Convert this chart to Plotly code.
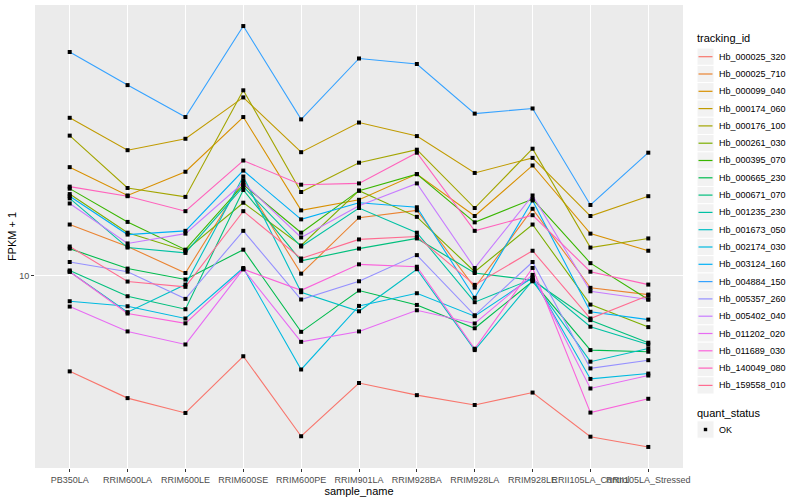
import plotly.graph_objects as go
import math

samples = ["PB350LA", "RRIM600LA", "RRIM600LE", "RRIM600SE", "RRIM600PE", "RRIM901LA",
           "RRIM928BA", "RRIM928LA", "RRIM928LE", "RRII105LA_Control", "RRII105LA_Stressed"]

tracking_ids = ["Hb_000025_320", "Hb_000025_710", "Hb_000099_040", "Hb_000174_060", "Hb_000176_100",
                "Hb_000261_030", "Hb_000395_070", "Hb_000665_230", "Hb_000671_070", "Hb_001235_230",
                "Hb_001673_050", "Hb_002174_030", "Hb_003124_160", "Hb_004884_150", "Hb_005357_260",
                "Hb_005402_040", "Hb_011202_020", "Hb_011689_030", "Hb_140049_080", "Hb_159558_010"]

colors = ["#F8766D", "#EA8331", "#D89000", "#C09B00", "#A3A500", "#7CAE00", "#39B600", "#00BB4E",
          "#00BF7D", "#00C1A3", "#00BFC4", "#00BAE0", "#00B0F6", "#35A2FF", "#9590FF", "#C77CFF",
          "#E76BF3", "#FA62DB", "#FF62BC", "#FF6C91"]

# FPKM + 1 values per gene, in sample order
Hb_000025_320 = [4.79, 3.90, 3.48, 5.38, 2.91, 4.38, 3.99, 3.70, 4.07, 2.90, 2.68]
Hb_000025_710 = [14.8, 12.5, 10.2, 20.8, 10.15, 15.6, 16.5, 9.12, 16.7, 9.10, 8.64]
Hb_000099_040 = [23.0, 18.5, 22.2, 33.8, 16.5, 17.9, 21.8, 15.8, 23.3, 13.8, 12.1]
Hb_000174_060 = [33.6, 26.2, 28.6, 39.3, 25.8, 32.4, 29.2, 22.0, 24.7, 15.8, 18.4]
Hb_000176_100 = [29.3, 19.6, 18.3, 41.5, 19.0, 23.8, 26.3, 16.8, 26.5, 12.4, 13.3]
Hb_000261_030 = [18.7, 13.9, 12.1, 17.5, 12.6, 19.2, 15.7, 10.3, 14.8, 8.00, 6.73]
Hb_000395_070 = [19.5, 15.1, 12.2, 20.1, 13.9, 19.2, 21.8, 15.05, 18.0, 11.0, 8.32]
Hb_000665_230 = [12.3, 10.55, 9.70, 12.2, 6.49, 8.91, 7.98, 6.67, 9.57, 5.64, 5.57]
Hb_000671_070 = [10.4, 8.53, 7.72, 19.3, 11.2, 12.3, 13.3, 10.2, 9.65, 7.10, 5.97]
Hb_001235_230 = [18.1, 12.4, 11.9, 19.8, 12.5, 16.8, 13.9, 8.15, 9.75, 6.75, 5.89]
Hb_001673_050 = [10.3, 7.55, 9.33, 21.4, 8.80, 7.60, 10.5, 5.64, 9.62, 5.16, 5.71]
Hb_002174_030 = [8.21, 7.90, 7.19, 10.6, 4.86, 7.92, 8.73, 7.32, 9.85, 4.52, 4.71]
Hb_003124_160 = [18.4, 13.7, 14.1, 22.4, 15.4, 17.5, 16.9, 8.43, 17.8, 7.57, 7.13]
Hb_004884_150 = [55.7, 43.2, 33.8, 68.0, 33.2, 53.0, 50.8, 34.7, 36.1, 17.2, 25.7]
Hb_005357_260 = [11.1, 10.3, 8.36, 14.1, 8.32, 9.57, 11.7, 7.37, 11.1, 4.90, 5.22]
Hb_005402_040 = [17.4, 12.8, 13.8, 20.4, 13.4, 17.1, 20.3, 10.6, 18.5, 8.86, 8.32]
Hb_011202_020 = [7.88, 6.51, 5.89, 10.5, 6.01, 6.51, 7.66, 6.92, 10.05, 4.20, 4.64]
Hb_011689_030 = [10.3, 7.47, 6.93, 10.5, 8.93, 10.9, 10.7, 5.70, 10.6, 3.49, 3.88]
Hb_140049_080 = [19.8, 18.4, 16.4, 24.2, 20.1, 20.3, 25.7, 14.1, 15.9, 10.3, 9.33]
Hb_159558_010 = [12.5, 9.55, 9.17, 16.4, 11.4, 13.2, 13.5, 9.31, 12.1, 7.19, 8.58]

series = [Hb_000025_320, Hb_000025_710, Hb_000099_040, Hb_000174_060, Hb_000176_100,
          Hb_000261_030, Hb_000395_070, Hb_000665_230, Hb_000671_070, Hb_001235_230,
          Hb_001673_050, Hb_002174_030, Hb_003124_160, Hb_004884_150, Hb_005357_260,
          Hb_005402_040, Hb_011202_020, Hb_011689_030, Hb_140049_080, Hb_159558_010]

quant_status = ["OK"]
y_ticks = [10]

FONT = "Liberation Sans, Arial, Helvetica, sans-serif"
W, H = 800, 500
ML, MR, MT, MB = 35, 117, 5, 32
PW, PH = W - ML - MR, H - MT - MB


def px(x):  # pixel -> paper x
    return (x - ML) / PW


def py(y):  # pixel -> paper y
    return 1 - (y - MT) / PH


fig = go.Figure()
for name, vals, col in zip(tracking_ids, series, colors):
    fig.add_trace(go.Scatter(x=samples, y=vals, mode="lines", name=name,
                             line=dict(color=col, width=1.1), showlegend=False))

all_x = [s for vals in series for s in samples]
all_y = [v for vals in series for v in vals]
fig.add_trace(go.Scatter(x=all_x, y=all_y, mode="markers", name=quant_status[0], showlegend=False,
                         marker=dict(symbol="square", size=4, color="black")))

lo = math.log10(min(all_y))
hi = math.log10(max(all_y))
pad = 0.05 * (hi - lo)

# ---- manual ggplot-style legends ----
shapes = []
annotations = []
annotations.append(dict(text="tracking_id", x=px(695), y=py(38), xref="paper", yref="paper",
                        xanchor="left", yanchor="middle", showarrow=False,
                        font=dict(family=FONT, size=11, color="black")))
step = 17.3
y0 = 56.7
for i, (name, col) in enumerate(zip(tracking_ids, colors)):
    cy = y0 + i * step
    shapes.append(dict(type="rect", xref="paper", yref="paper",
                       x0=px(697), x1=px(714), y0=py(cy - step / 2), y1=py(cy + step / 2),
                       fillcolor="#F2F2F2", line=dict(color="white", width=1), layer="above"))
    shapes.append(dict(type="line", xref="paper", yref="paper",
                       x0=px(698.5), x1=px(712.5), y0=py(cy), y1=py(cy),
                       line=dict(color=col, width=1.2), layer="above"))
    annotations.append(dict(text=name, x=px(716.5), y=py(cy), xref="paper", yref="paper",
                            xanchor="left", yanchor="middle", showarrow=False,
                            font=dict(family=FONT, size=9, color="black")))

annotations.append(dict(text="quant_status", x=px(695), y=py(412.5), xref="paper", yref="paper",
                        xanchor="left", yanchor="middle", showarrow=False,
                        font=dict(family=FONT, size=11, color="black")))
ok_y = 429.5
shapes.append(dict(type="rect", xref="paper", yref="paper",
                   x0=px(697), x1=px(714), y0=py(ok_y - step / 2), y1=py(ok_y + step / 2),
                   fillcolor="#F2F2F2", line=dict(color="white", width=1), layer="above"))
shapes.append(dict(type="rect", xref="paper", yref="paper",
                   x0=px(703.8), x1=px(707.2), y0=py(ok_y - 1.7), y1=py(ok_y + 1.7),
                   fillcolor="black", line=dict(color="black", width=0), layer="above"))
annotations.append(dict(text=quant_status[0], x=px(716.5), y=py(ok_y), xref="paper", yref="paper",
                        xanchor="left", yanchor="middle", showarrow=False,
                        font=dict(family=FONT, size=9, color="black")))

fig.update_layout(
    width=W, height=H,
    margin=dict(l=ML, r=MR, t=MT, b=MB, autoexpand=False),
    paper_bgcolor="white", plot_bgcolor="#EBEBEB",
    font=dict(family=FONT, size=9, color="#4D4D4D"),
    showlegend=False,
    shapes=shapes, annotations=annotations,
    xaxis=dict(type="category", categoryorder="array", categoryarray=samples,
               range=[-0.6, len(samples) - 0.4], showgrid=True, gridcolor="white", gridwidth=1.1,
               zeroline=False, ticks="outside", ticklen=3, tickcolor="#333333", tickwidth=1,
               tickangle=0,
               tickfont=dict(family=FONT, size=9, color="#4D4D4D"),
               title=dict(text="sample_name", font=dict(family=FONT, size=11, color="black"), standoff=2),
               automargin=False, showline=False),
    yaxis=dict(type="log", range=[lo - pad, hi + pad], tickvals=y_ticks, ticktext=["10"],
               showgrid=True, gridcolor="white", gridwidth=1.1, zeroline=False,
               ticks="outside", ticklen=3, tickcolor="#333333", tickwidth=1,
               tickfont=dict(family=FONT, size=9, color="#4D4D4D"),
               title=dict(text="FPKM + 1", font=dict(family=FONT, size=11, color="black"), standoff=0),
               automargin=False, showline=False, minor=dict(showgrid=False)),
)

fig.write_html("out.html", config={"displayModeBar": False},
               post_script="document.body.style.margin='0px';")
